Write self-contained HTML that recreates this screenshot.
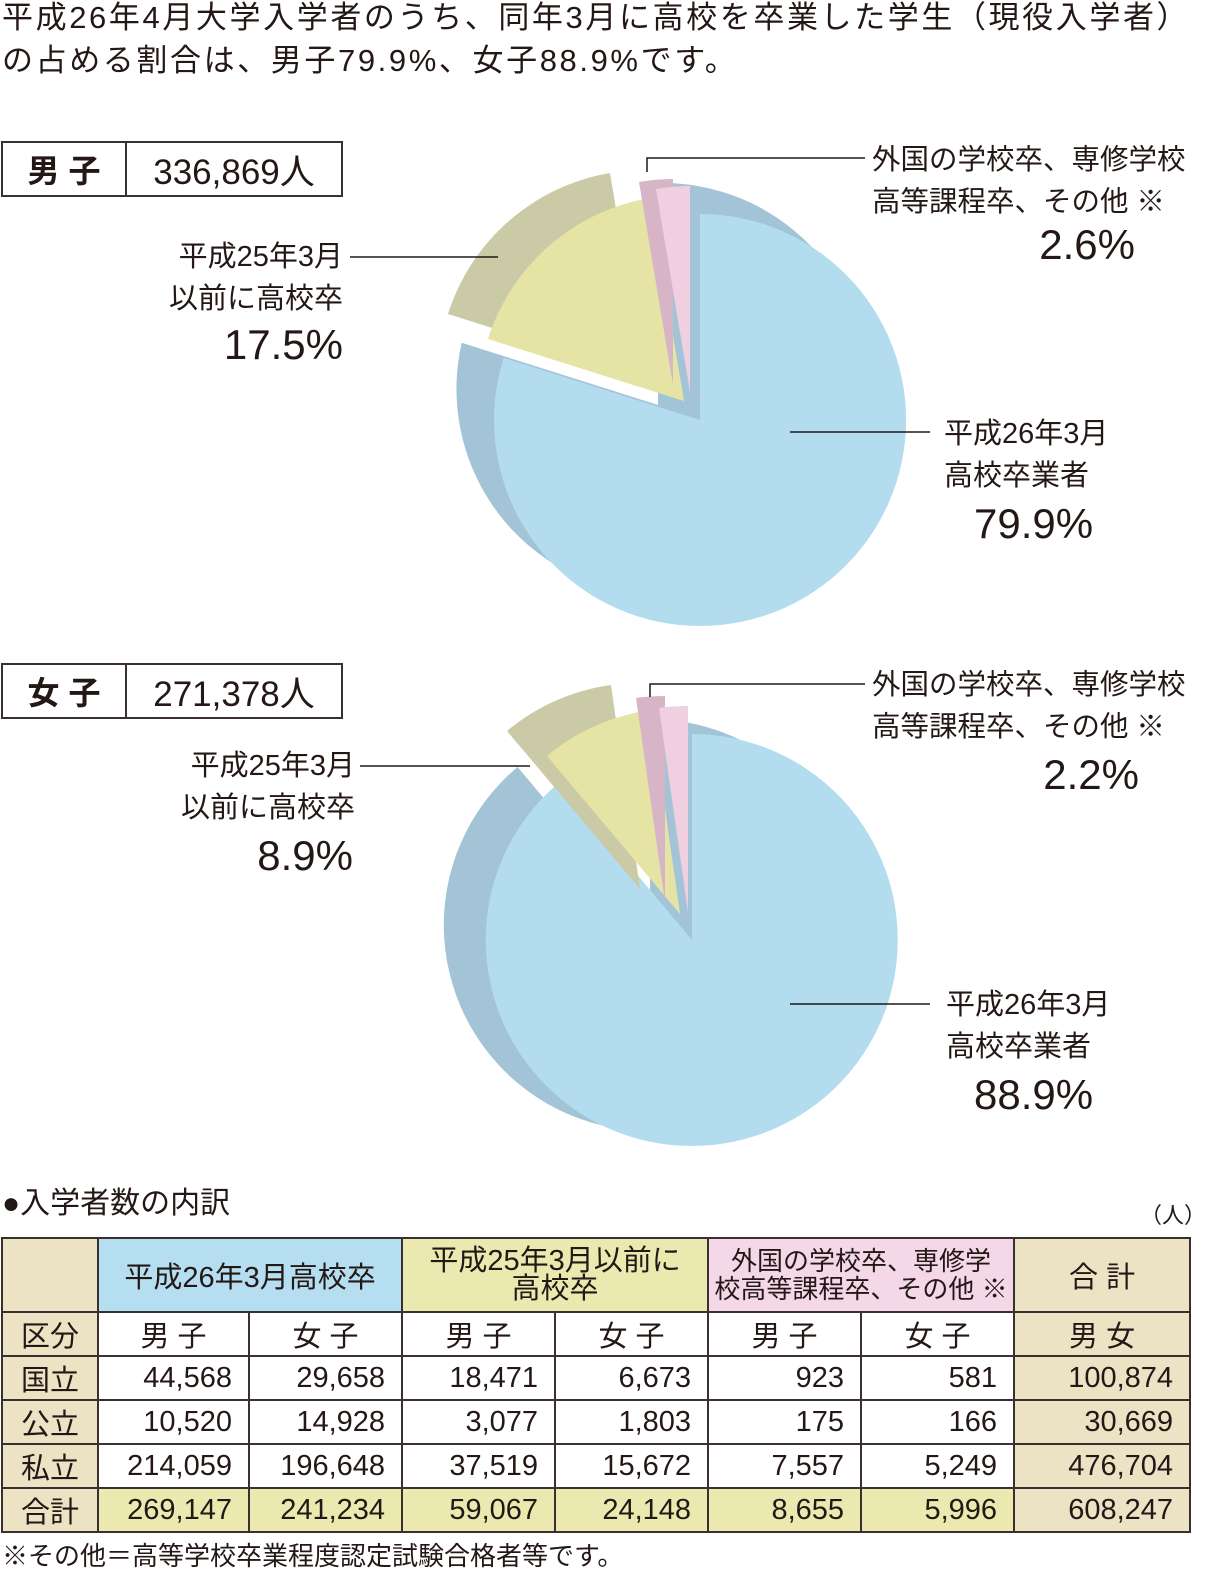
<!DOCTYPE html>
<html><head><meta charset="utf-8"><style>
body{margin:0;width:1211px;height:1586px;background:#fff;position:relative;overflow:hidden;font-family:"Liberation Sans","Noto Sans CJK JP",sans-serif;color:#231815}
.t{position:absolute;white-space:nowrap;line-height:1}
.r{text-align:right}
.box{position:absolute;border:2px solid #3a3030;height:52px;display:flex}
.box div{display:flex;align-items:center;justify-content:center}
table{position:absolute;left:1px;top:1237px;border-collapse:collapse;font-size:29px;table-layout:fixed;width:1188px}
td{border:2px solid #3a3030;padding:0;text-align:right;padding-right:16px;height:41px}
td.c{text-align:center;padding-right:0}
.bg{background:#ece3c5}.bl{background:#b5def0}.ye{background:#ece9b0}.pk{background:#f4d8e8}
</style></head><body>
<div class="t" style="left:2px;top:2px;font-size:31px;letter-spacing:2.6px">平成26年4月大学入学者のうち、同年3月に高校を卒業した学生（現役入学者）</div>
<div class="t" style="left:2px;top:45px;font-size:31px;letter-spacing:2.6px">の占める割合は、男子79.9%、女子88.9%です。</div>

<div class="box" style="left:1px;top:141px;width:338px"><div style="width:122px;border-right:2px solid #3a3030;font-weight:bold;font-size:32px">男 子</div><div style="flex:1;font-size:35px">336,869人</div></div>
<div class="box" style="left:1px;top:663px;width:338px"><div style="width:122px;border-right:2px solid #3a3030;font-weight:bold;font-size:32px">女 子</div><div style="flex:1;font-size:35px">271,378人</div></div>

<svg style="position:absolute;left:0;top:0" width="1211" height="1586">
<path d="M658,405 L658,183 A206,206 0 1 1 461.7,342.8 Z" fill="#a3c4d7"/>
<path d="M700,420 L700,214 A206,206 0 1 1 503.7,357.8 Z" fill="#b3dcef"/>
<path d="M644,376 L448,314 A206,206 0 0 1 610,173 Z" fill="#cbcaa6"/>
<path d="M684,401 L488,339 A206,206 0 0 1 650,198 Z" fill="#e6e4a4"/>
<path d="M673,385 L639,182 A206,206 0 0 1 673,179 Z" fill="#d7b4c6"/>
<path d="M690,392 L656,189 A206,206 0 0 1 690,186 Z" fill="#f0cfe0"/>
<path d="M650,925 L650,719 A206,206 0 1 1 517.6,767 Z" fill="#a3c4d7"/>
<path d="M692,940 L692,734 A206,206 0 1 1 559.6,782 Z" fill="#b3dcef"/>
<path d="M640,889 L507,731 A206,206 0 0 1 611,685 Z" fill="#cbcaa6"/>
<path d="M680,914 L547,756 A206,206 0 0 1 651,710 Z" fill="#e6e4a4"/>
<path d="M665,902 L636,698 A206,206 0 0 1 665,696 Z" fill="#d7b4c6"/>
<path d="M688,912 L659,708 A206,206 0 0 1 688,706 Z" fill="#f0cfe0"/>
<g stroke="#231815" stroke-width="1.5" fill="none">
<path d="M647,172 V158 H865"/><path d="M350,257 H498"/><path d="M790,432 H930"/>
<path d="M650,697 V684 H865"/><path d="M360,766 H530"/><path d="M790,1004 H930"/>
</g>
</svg>

<div class="t" style="left:872px;top:139px;font-size:28.5px;line-height:42px">外国の学校卒、専修学校<br>高等課程卒、その他 ※</div>
<div class="t r" style="right:76px;top:224px;font-size:42px">2.6%</div>
<div class="t r" style="right:868px;top:236px;font-size:29px;line-height:42px">平成25年3月<br>以前に高校卒</div>
<div class="t r" style="right:868px;top:324px;font-size:42px">17.5%</div>
<div class="t" style="left:944px;top:413px;font-size:29px;line-height:42px">平成26年3月<br>高校卒業者</div>
<div class="t" style="left:974px;top:503px;font-size:42px">79.9%</div>

<div class="t" style="left:872px;top:664px;font-size:28.5px;line-height:42px">外国の学校卒、専修学校<br>高等課程卒、その他 ※</div>
<div class="t r" style="right:72px;top:754px;font-size:42px">2.2%</div>
<div class="t r" style="right:856px;top:745px;font-size:29px;line-height:42px">平成25年3月<br>以前に高校卒</div>
<div class="t r" style="right:858px;top:835px;font-size:42px">8.9%</div>
<div class="t" style="left:946px;top:984px;font-size:29px;line-height:42px">平成26年3月<br>高校卒業者</div>
<div class="t" style="left:974px;top:1074px;font-size:42px">88.9%</div>

<div class="t" style="left:2px;top:1189px;font-size:30px">●入学者数の内訳</div>
<div class="t" style="left:1140px;top:1205px;font-size:22px">（人）</div>

<table>
<colgroup><col style="width:96px"><col style="width:151px"><col style="width:153px"><col style="width:153px"><col style="width:153px"><col style="width:153px"><col style="width:153px"><col style="width:176px"></colgroup>
<tr><td class="c bg" style="height:72px"></td><td class="c bl" colspan="2">平成26年3月高校卒</td><td class="c ye" colspan="2" style="line-height:28px">平成25年3月以前に<br>高校卒</td><td class="c pk" colspan="2" style="line-height:28px;font-size:26px">外国の学校卒、専修学<br>校高等課程卒、その他 ※</td><td class="c bg">合 計</td></tr>
<tr><td class="c bg">区分</td><td class="c">男 子</td><td class="c">女 子</td><td class="c">男 子</td><td class="c">女 子</td><td class="c">男 子</td><td class="c">女 子</td><td class="c bg">男 女</td></tr>
<tr><td class="c bg">国立</td><td>44,568</td><td>29,658</td><td>18,471</td><td>6,673</td><td>923</td><td>581</td><td class="bg">100,874</td></tr>
<tr><td class="c bg">公立</td><td>10,520</td><td>14,928</td><td>3,077</td><td>1,803</td><td>175</td><td>166</td><td class="bg">30,669</td></tr>
<tr><td class="c bg">私立</td><td>214,059</td><td>196,648</td><td>37,519</td><td>15,672</td><td>7,557</td><td>5,249</td><td class="bg">476,704</td></tr>
<tr><td class="c bg">合計</td><td class="ye">269,147</td><td class="ye">241,234</td><td class="ye">59,067</td><td class="ye">24,148</td><td class="ye">8,655</td><td class="ye">5,996</td><td class="bg">608,247</td></tr>
</table>
<div class="t" style="left:2px;top:1543px;font-size:26px">※その他＝高等学校卒業程度認定試験合格者等です。</div>
</body></html>
